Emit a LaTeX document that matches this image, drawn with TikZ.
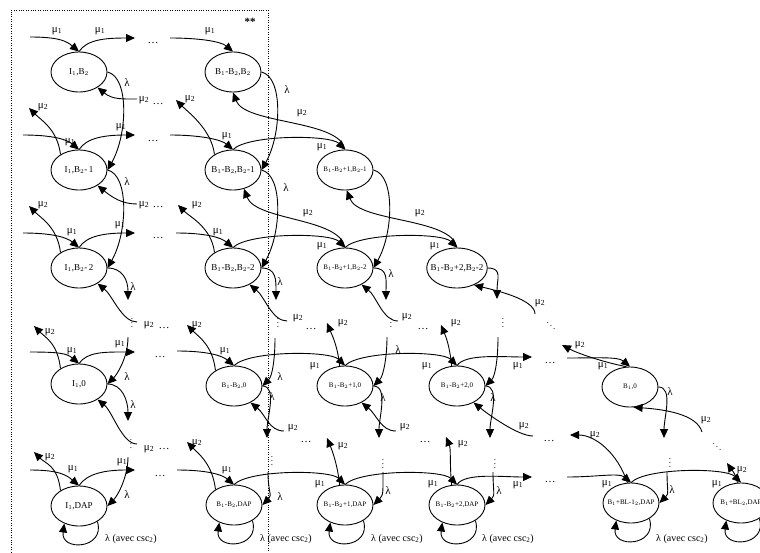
\documentclass[tikz,border=0pt]{standalone}
\usepackage{fontspec}
\setmainfont{Liberation Serif}
\usetikzlibrary{shapes.geometric,arrows.meta}
\newcommand{\muI}{μ\textsubscript{1}}
\newcommand{\muII}{μ\textsubscript{2}}
\newcommand{\lam}{λ}
\begin{document}
\begin{tikzpicture}[x=1pt, y=-1pt, line width=0.9pt, >={Triangle[length=9pt,width=8pt]},
    main/.style = {draw, ellipse, minimum width=56pt, minimum height=40pt, inner xsep=-5pt, inner ysep=0pt, font=\small},
    mainsm/.style = {main, font=\scriptsize},
    lab/.style = {font=\fontsize{11pt}{13pt}\selectfont, inner sep=0pt},
    dotsv/.style = {font=\small, inner sep=0pt}]
\useasboundingbox (0,0) rectangle (760,552);
\draw[thin, dotted] (11,552) |- (268,10) -- (268,552);
\node[lab] (star) at (250,22) {\textbf{**}};
%% States
\node[main] (a1) at (79,72) {I$_1$,B$_2$};
\node[main] (a2) at (79,170) {I$_1$,B$_2$-\,1};
\node[main] (a3) at (79,268) {I$_1$,B$_2$-\,2};
\node[main] (a4) at (79,384) {I$_1$,0};
\node[main] (a5) at (79,506) {I$_1$,DAP};
\node[main] (b1) at (233,72) {B$_1$-B$_2$,B$_2$};
\node[main] (b2) at (233,170) {B$_1$-B$_2$,B$_2$-1};
\node[main] (b3) at (233,268) {B$_1$-B$_2$,B$_2$-2};
\node[mainsm] (b4) at (234,386) {B$_1$-B$_2$,0};
\node[mainsm] (b5) at (234,505) {B$_1$-B$_2$,DAP};
\node[mainsm] (c2) at (345,170) {B$_1$-B$_2$+1,B$_2$-1};
\node[mainsm] (c3) at (345,268) {B$_1$-B$_2$+1,B$_2$-2};
\node[mainsm] (c4) at (345,386) {B$_1$-B$_2$+1,0};
\node[mainsm] (c5) at (345,505) {B$_1$-B$_2$+1,DAP};
\node[main] (d3) at (457,268) {B$_1$-B$_2$+2,B$_2$-2};
\node[mainsm] (d4) at (457,386) {B$_1$-B$_2$+2,0};
\node[mainsm] (d5) at (457,505) {B$_1$-B$_2$+2,DAP};
\node[mainsm] (e4) at (630,387) {B$_1$,0};
\node[mainsm] (e5) at (631,503) {B$_1$+BL-1$_2$,DAP};
\node[mainsm] (f5) at (741,503) {B$_1$+BL$_2$,DAP};
%% Dots
\foreach \p [count=\i] in {(153,43),(153,141),(158,238),(160,357),(160,476),(158,104),(158,207),
    (164,328),(164,449),(311,329),(306,442),(423,329),(425,442),(549,441),(550,363),(550,482)}
  \node[lab] (h\i) at \p {\dots};
\foreach \p [count=\i] in {(132,320),(131,441),(278,320),(272,458),(391,320),(383,461),(503,320),(495,461),(670,460)}
  \node[dotsv] (v\i) at \p {$\vdots$};
\node[dotsv] (dg1) at (551,323) {$\ddots$};
\node[dotsv] (dg2) at (717,444) {$\ddots$};
%% Free ends
\coordinate (a1-in) at (30,37);   \coordinate (a1-out) at (135,38);  \coordinate (a1-mi) at (137,99);
\coordinate (a2-up) at (29,108);  \coordinate (a2-in) at (23,135);   \coordinate (a2-out) at (135,135);
\coordinate (a2-mi) at (137,204);
\coordinate (a3-up) at (29,206);  \coordinate (a3-in) at (23,233);   \coordinate (a3-out) at (135,233);
\coordinate (a3-ld) at (128,300); \coordinate (a3-mi) at (137,322);
\coordinate (a4-up) at (34,326);  \coordinate (a4-in) at (30,352);   \coordinate (a4-out) at (135,352);
\coordinate (a4-li) at (128,337); \coordinate (a4-ld) at (128,421);  \coordinate (a4-mi) at (137,444);
\coordinate (a5-up) at (34,452);  \coordinate (a5-in) at (30,470);   \coordinate (a5-out) at (135,470);
\coordinate (a5-li) at (128,457);
\coordinate (b1-in) at (170,38);
\coordinate (b2-up) at (176,100); \coordinate (b2-in) at (170,135);
\coordinate (b3-up) at (178,205); \coordinate (b3-in) at (176,233);  \coordinate (b3-ld) at (276,300);
\coordinate (b3-mi) at (287,321);
\coordinate (b4-up) at (187,325); \coordinate (b4-in) at (177,351);  \coordinate (b4-li) at (275,338);
\coordinate (b4-ld) at (267,438); \coordinate (b4-mi) at (284,431);
\coordinate (b5-up) at (187,442); \coordinate (b5-in) at (177,470);  \coordinate (b5-li) at (268,472);
\coordinate (c3-ld) at (386,300); \coordinate (c3-mi) at (398,321);
\coordinate (c4-up) at (327,323); \coordinate (c4-li) at (387,337);  \coordinate (c4-ld) at (379,438);
\coordinate (c4-mi) at (396,431); \coordinate (c5-up) at (327,438);  \coordinate (c5-li) at (383,472);
\coordinate (d3-ld) at (497,299); \coordinate (d3-mi) at (535,314);
\coordinate (d4-up) at (441,325); \coordinate (d4-out) at (532,357); \coordinate (d4-li) at (498,337);
\coordinate (d4-ld) at (490,438); \coordinate (d4-mi) at (533,436);
\coordinate (d5-up) at (446,437); \coordinate (d5-out) at (532,477); \coordinate (d5-li) at (493,472);
\coordinate (e4-in) at (567,358); \coordinate (e4-up) at (562,345);  \coordinate (e4-ld) at (664,438);
\coordinate (e4-mi) at (702,432);
\coordinate (e5-in) at (567,477); \coordinate (e5-up) at (570,435);  \coordinate (e5-li) at (667,472);
\coordinate (f5-up) at (727,463);
%% Arrows mu1
\foreach \n in {a1,a2,a3,a4,a5,b1,b2,b3,b4,b5,e4,e5}
  \draw[->] (\n-in) .. controls +(30,0) and +(-12,-10) .. (\n.north);
\foreach \n in {a1,a2,a3,a4,a5,d4,d5}
  \draw[->] (\n.north) .. controls +(8,-12) and +(-30,0) .. (\n-out);
\foreach \p/\q in {b2/c2,b3/c3,c3/d3,b4/c4,c4/d4,b5/c5,c5/d5,e5/f5}
  \draw[->] (\p.north) .. controls +(15,-15) and +(-15,-15) .. (\q.north);
%% Arrows lambda
\foreach \p/\q in {a1/a2,a2/a3,b1/b2,b2/b3,c2/c3}
  \draw[->] (\p.east) .. controls +(22,5) and +(20,-35) .. (\q.east);
\foreach \n in {a3,a4,b3,b4,c3,c4,d3,d4,e4}
  \draw[->] (\n.east) .. controls +(15,0) and +(0,-20) .. (\n-ld);
\foreach \n in {a4,a5,b4,b5,c4,c5,d4,d5,e5}
  \draw[->] (\n-li) .. controls +(0,20) and +(10,-10) .. (\n.east);
\foreach \n in {a5,b5,c5,d5,e5,f5}
  \draw[->] (\n.320) .. controls +(8,28) and +(-4,28) .. (\n.230);
%% Arrows mu2
\foreach \n in {a2,a3,a4,a5,b2,b3,b4,b5}
  \draw[->] (\n.140) .. controls +(-3,-25) and +(12,12) .. (\n-up);
\foreach \n in {c4,c5,d4,d5}
  \draw[->] (\n.105) .. controls +(-2,-20) and +(5,12) .. (\n-up);
\draw[->] (e4.100) .. controls +(-25,-5) and +(15,8) .. (e4-up);
\draw[->] (e5.100) .. controls +(-10,-30) and +(25,0) .. (e5-up);
\draw[->] (f5.100) .. controls +(-2,-10) and +(4,6) .. (f5-up);
\foreach \n/\g in {a1/320,a2/320,a3/320,a4/320,b3/315,b4/315,c3/315,c4/315,d4/315}
  \draw[->] (\n-mi) .. controls +(-15,0) and +(15,12) .. (\n.\g);
\draw[->] (d3-mi) .. controls +(0,-15) and +(20,5) .. (d3.315);
\draw[->] (e4-mi) .. controls +(-5,-18) and +(30,2) .. (e4.280);
\foreach \p/\q/\g in {c2/b1/270,c3/b2/300,d3/c2/275}
  \draw[->] (\p.north) .. controls +(-5,-30) and +(12,32) .. (\q.\g);
%% Labels
\foreach \p [count=\i] in {(57,31),(100,31),(210,31),(70,142),(121,127),(227,136),(322,147),
    (72,232),(120,225),(218,232),(322,246),(435,246),(72,351),(120,344),(225,351),(315,366),
    (427,366),(518,366),(603,366),(73,469),(122,462),(227,470),(320,484),(433,484),(518,485),
    (607,484),(717,484)}
  \node[lab] (ma\i) at \p {\muI};
\foreach \p [count=\i] in {(43,107),(144,100),(190,99),(302,113),(43,205),(144,205),(197,205),
    (308,213),(420,213),(50,332),(149,325),(197,325),(298,318),(343,323),(407,317),(456,323),
    (540,303),(580,345),(50,457),(149,449),(197,443),(293,428),(343,446),(405,427),(463,444),
    (524,426),(595,435),(706,420),(742,470)}
  \node[lab] (mb\i) at \p {\muII};
\foreach \p [count=\i] in {(127,83),(127,182),(287,90),(286,188),(133,287),(280,282),(391,274),
    (127,377),(133,405),(280,377),(272,397),(383,398),(398,350),(493,398),(670,392),(127,495),
    (280,497),(388,491),(499,491),(672,490)}
  \node[lab] (l\i) at \p {\lam};
\foreach \p [count=\i] in {(131,539),(286,539),(397,539),(508,539),(682,539)}
  \node[lab, font=\normalsize] (lc\i) at \p {\lam\ (avec csc\textsubscript{2})};
\end{tikzpicture}
\end{document}
